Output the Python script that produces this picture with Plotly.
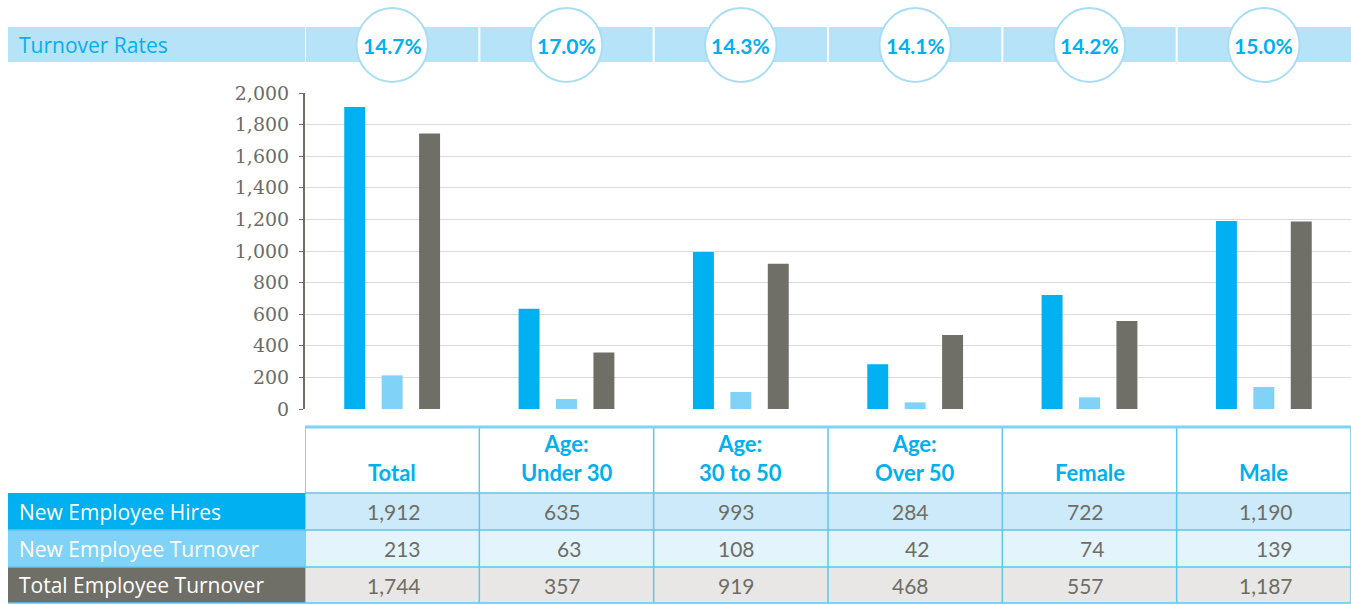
import plotly.graph_objects as go

# ---------------- data ----------------
categories = ["Total", "Age:<br>Under 30", "Age:<br>30 to 50", "Age:<br>Over 50", "Female", "Male"]
series_names = ["New Employee Hires", "New Employee Turnover", "Total Employee Turnover"]
hires = [1912, 635, 993, 284, 722, 1190]
new_turnover = [213, 63, 108, 42, 74, 139]
total_turnover = [1744, 357, 919, 468, 557, 1187]
turnover_rates = ["14.7%", "17.0%", "14.3%", "14.1%", "14.2%", "15.0%"]
band_label = "Turnover Rates"
y_ticks = [0, 200, 400, 600, 800, 1000, 1200, 1400, 1600, 1800, 2000]

# ---------------- styles ----------------
C_BLUE = "#00b0f0"
C_LBLUE = "#80d3f6"
C_GRAY = "#6f6f67"
C_TEXT = "#6d6d66"
C_BAND = "#b6e3f8"
C_BORDER = "#5ec6ef"
series_colors = [C_BLUE, C_LBLUE, C_GRAY]
row_label_fills = [C_BLUE, C_LBLUE, C_GRAY]
row_data_fills = ["#cdeafa", "#e3f4fc", "#e8e7e5"]
SANS = "Lato, 'Open Sans', sans-serif"
WIDE = "'Open Sans', sans-serif"

W, H = 1351, 604
L, R, T, B = 305, 0, 93, 195
PW, PH = W - L - R, H - T - B
COLW = PW / 6.0


def px(p):
    return (p - L) / PW


def py(p):
    return (H - B - p) / PH


series_values = [hires, new_turnover, total_turnover]
xs = list(range(len(categories)))

fig = go.Figure()
for name, vals, col in zip(series_names, series_values, series_colors):
    fig.add_trace(go.Bar(x=xs, y=vals, name=name, marker=dict(color=col, line=dict(width=0)),
                         showlegend=False, hoverinfo="y+name"))

shapes = []
annotations = []

# top band
shapes.append(dict(type="rect", xref="paper", yref="paper", x0=px(8), x1=px(W), y0=py(62), y1=py(27),
                   fillcolor=C_BAND, line=dict(width=0), layer="below"))
for i in xs:
    shapes.append(dict(type="line", xref="x", yref="paper", x0=i - 0.5, x1=i - 0.5, y0=py(62), y1=py(27),
                       line=dict(color="white", width=2)))
annotations.append(dict(text=band_label, xref="paper", yref="paper", x=px(17), y=py(45), xanchor="left",
                        yanchor="middle", showarrow=False, font=dict(family=WIDE, size=21, color=C_BLUE)))
for i, r in zip(xs, turnover_rates):
    shapes.append(dict(type="circle", xref="x", yref="paper", x0=i - 0.205, x1=i + 0.205, y0=py(82), y1=py(8),
                       fillcolor="white", line=dict(color="#a9ddf5", width=2)))
    annotations.append(dict(text="<b>%s</b>" % r, xref="x", yref="paper", x=i, y=py(45), xanchor="center",
                            yanchor="middle", showarrow=False, font=dict(family=SANS, size=21, color=C_BLUE)))

# table
rows_y = [(493, 530), (530, 567), (567, 603)]
for (y0, y1), lf, df, name in zip(rows_y, row_label_fills, row_data_fills, series_names):
    shapes.append(dict(type="rect", xref="paper", yref="paper", x0=px(8), x1=px(L), y0=py(y1), y1=py(y0),
                       fillcolor=lf, line=dict(width=0)))
    shapes.append(dict(type="rect", xref="paper", yref="paper", x0=px(L), x1=px(W), y0=py(y1), y1=py(y0),
                       fillcolor=df, line=dict(width=0)))
    annotations.append(dict(text=name, xref="paper", yref="paper", x=px(17), y=py((y0 + y1) / 2),
                            xanchor="left", yanchor="middle", showarrow=False,
                            font=dict(family=WIDE, size=21, color="white")))

# numbers: right-aligned within a block centred on the column (block width = widest entry)
for i in xs:
    widest = max(len(f"{vals[i]:,}") for vals in series_values)
    off = (7.5 * widest - 6.5) / COLW
    for (y0, y1), vals in zip(rows_y, series_values):
        annotations.append(dict(text=f"{vals[i]:,}", xref="x", yref="paper", x=i + off, y=py((y0 + y1) / 2),
                                xanchor="right", yanchor="middle", showarrow=False,
                                font=dict(family=SANS, size=21, color=C_TEXT)))

# table grid lines
for yy in [493, 530, 567, 603]:
    x0 = 8 if yy == 603 else L
    shapes.append(dict(type="line", xref="paper", yref="paper", x0=px(x0), x1=px(W), y0=py(yy), y1=py(yy),
                       line=dict(color=C_BORDER, width=1.5)))
for yy in [530, 567]:
    shapes.append(dict(type="line", xref="paper", yref="paper", x0=px(8), x1=px(L), y0=py(yy), y1=py(yy),
                       line=dict(color=C_BORDER, width=1.5)))
for i in xs + [len(xs)]:
    shapes.append(dict(type="line", xref="x", yref="paper", x0=i - 0.5, x1=i - 0.5, y0=py(603), y1=py(427),
                       line=dict(color=C_BORDER, width=1.5)))
shapes.append(dict(type="line", xref="paper", yref="paper", x0=px(L), x1=px(W), y0=py(427), y1=py(427),
                   line=dict(color="#7fd3f7", width=3)))

for i, c in zip(xs, categories):
    annotations.append(dict(text="<b>%s</b>" % c, xref="x", yref="paper", x=i, y=py(488), xanchor="center",
                            yanchor="bottom", showarrow=False,
                            font=dict(family=SANS, size=22, color=C_BLUE)))

fig.update_layout(
    width=W, height=H,
    margin=dict(l=L, r=R, t=T, b=B, pad=0),
    paper_bgcolor="white", plot_bgcolor="white",
    barmode="group", bargap=0.356, bargroupgap=0.44,
    shapes=shapes, annotations=annotations,
    xaxis=dict(range=[-0.5, len(xs) - 0.5], showticklabels=False, showgrid=False, zeroline=False,
               showline=False, fixedrange=True),
    yaxis=dict(range=[0, 2000], tickvals=y_ticks, tickformat=",d", showgrid=True, gridcolor="#dadada",
               gridwidth=1, zeroline=False, showline=True, linecolor="#6e6e66", linewidth=2,
               ticks="outside", ticklen=4, tickcolor="#6e6e66", ticklabelstandoff=6,
               tickfont=dict(family="'DejaVu Serif', serif", size=19, color=C_TEXT), fixedrange=True),
)

fig.write_html("out.html", config={"displayModeBar": False},
               post_script="document.body.style.margin='0';document.body.style.overflow='hidden';")
